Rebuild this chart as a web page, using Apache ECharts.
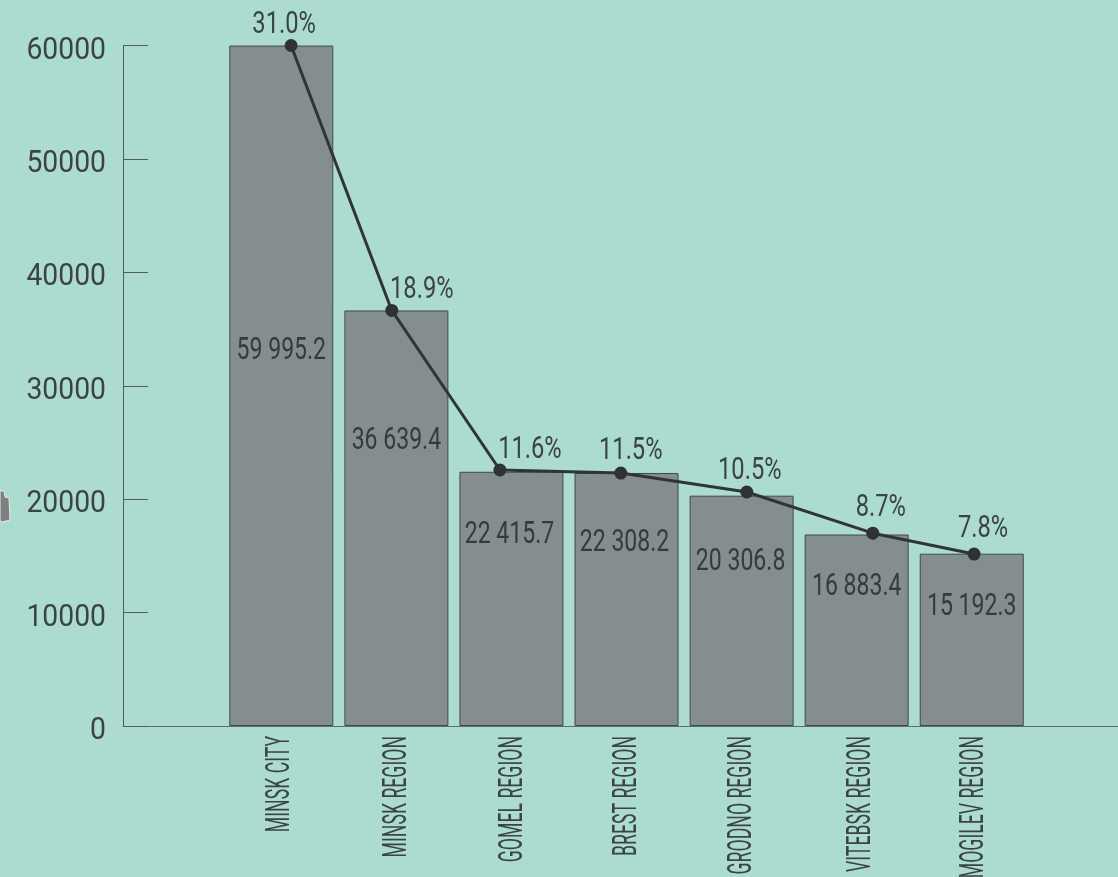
<!DOCTYPE html>
<html>
<head>
<meta charset="utf-8">
<style>
  html, body { margin: 0; padding: 0; background: #acdccf; }
  #chart { width: 1118px; height: 877px; }
</style>
<script src="https://cdn.jsdelivr.net/npm/echarts@6/dist/echarts.min.js"></script>
</head>
<body>
<div id="chart"></div>
<script>
// Data
const regions = ['MINSK CITY', 'MINSK REGION', 'GOMEL REGION', 'BREST REGION', 'GRODNO REGION', 'VITEBSK REGION', 'MOGILEV REGION'];
const grossValues = [59995.2, 36639.4, 22415.7, 22308.2, 20306.8, 16883.4, 15192.3];
const shares = [31.0, 18.9, 11.6, 11.5, 10.5, 8.7, 7.8];
const yTicks = [0, 10000, 20000, 30000, 40000, 50000, 60000];
// the line's points sit off the bar centres in the original
const linePosX = [0.085, 0.96, 1.90, 2.95, 4.045, 5.14, 6.02];
const lineValues = [60000, 36640, 22570, 22300, 20630, 17000, 15160];

// Label placement in px, relative to the bar top / line point / axis
const barLabelOffset = [[0, 305], [0, 131], [-2, 63], [-2, 70], [-1, 66], [0, 52], [0, 53]];
const shareLabelOffset = [[-7, -21], [30, -20], [30, -20], [10, -22], [3, -21], [8, -25], [9, -25]];
const regionLabelDx = [-1, 1, 2, 1, 1, 5, 3];

const X_MIN = -1.3757;
const X_MAX = 7.271;
const FONT = 'Roboto, "Liberation Sans", sans-serif';
const TEXT = '#3c4443';

const fmtValue = v => {
  const [a, b] = v.toFixed(1).split('.');
  return a.replace(/\B(?=(\d{3})+$)/g, ' ') + '.' + b;
};

// The original face is condensed and none is installed, so these labels are
// drawn as custom-series text squeezed along the reading direction.
const textSeries = (points, getOpt) => ({
  type: 'custom',
  silent: true,
  z: 5,
  encode: { x: 0, y: 1 },
  data: points,
  renderItem: (params, api) => {
    const p = api.coord([api.value(0), api.value(1)]);
    const o = getOpt(params.dataIndex);
    return {
      type: 'text',
      x: p[0] + o.dx,
      y: p[1] + o.dy,
      rotation: o.rotation || 0,
      scaleX: o.scaleX,
      style: {
        text: o.text,
        fill: o.fill || TEXT,
        fontFamily: FONT,
        fontSize: o.fontSize,
        align: o.align || 'center',
        verticalAlign: 'middle',
      },
    };
  },
});

const chart = echarts.init(document.getElementById('chart'), null, { renderer: 'canvas' });

chart.setOption({
  backgroundColor: '#acdccf',
  animation: false,
  grid: { left: 123, top: 45.5, width: 995, height: 680.5, containLabel: false, outerBoundsMode: 'none' },
  // scrap of artwork at the left edge of the original
  graphic: [{
    type: 'polygon',
    silent: true,
    shape: { points: [[0, 491], [4, 491], [5, 497], [9, 498], [10, 520], [2, 522], [0, 521]] },
    style: { fill: '#808080', stroke: '#e4ece9', lineWidth: 1 },
  }],
  xAxis: {
    type: 'value',
    min: X_MIN,
    max: X_MAX,
    splitLine: { show: false },
    axisTick: { show: false },
    axisLine: { show: true, onZero: false, lineStyle: { color: '#5c7069', width: 1 } },
    axisLabel: { show: false },
  },
  yAxis: {
    type: 'value',
    min: 0,
    max: 60000,
    interval: 10000,
    splitLine: { show: false },
    axisLine: { show: true, onZero: false, lineStyle: { color: '#4d5f5a', width: 1 } },
    axisTick: { show: true, inside: true, length: 25, lineStyle: { color: '#4d5f5a', width: 1 } },
    axisLabel: { show: false },
  },
  series: [
    {
      type: 'bar',
      barWidth: 104,
      itemStyle: { color: '#848e8e', borderColor: '#3f4a48', borderWidth: 1 },
      data: grossValues.map((v, i) => [i, v]),
      z: 2,
    },
    {
      type: 'line',
      clip: false,
      symbol: 'circle',
      symbolSize: 13,
      lineStyle: { color: '#2f3536', width: 3 },
      itemStyle: { color: '#2e3233' },
      data: lineValues.map((v, i) => [linePosX[i], v]),
      z: 3,
    },
    textSeries(yTicks.map(v => [X_MIN, v]), i => ({
      text: String(yTicks[i]),
      dx: -17,
      dy: 5,
      align: 'right',
      fontSize: 32,
      scaleX: 0.885,
    })),
    textSeries(grossValues.map((v, i) => [i, v]), i => ({
      text: fmtValue(grossValues[i]),
      dx: barLabelOffset[i][0],
      dy: barLabelOffset[i][1],
      fontSize: 32,
      scaleX: 0.72,
      fill: '#343b3b',
    })),
    textSeries(lineValues.map((v, i) => [linePosX[i], v]), i => ({
      text: shares[i].toFixed(1) + '%',
      dx: shareLabelOffset[i][0],
      dy: shareLabelOffset[i][1],
      fontSize: 32,
      scaleX: 0.74,
    })),
    textSeries(regions.map((r, i) => [i, 0]), i => ({
      text: regions[i],
      dx: regionLabelDx[i],
      dy: 10,
      rotation: Math.PI / 2,
      align: 'right',
      fontSize: 34,
      scaleX: 0.52,
    })),
  ],
});

window.addEventListener('resize', () => chart.resize());
</script>
</body>
</html>
